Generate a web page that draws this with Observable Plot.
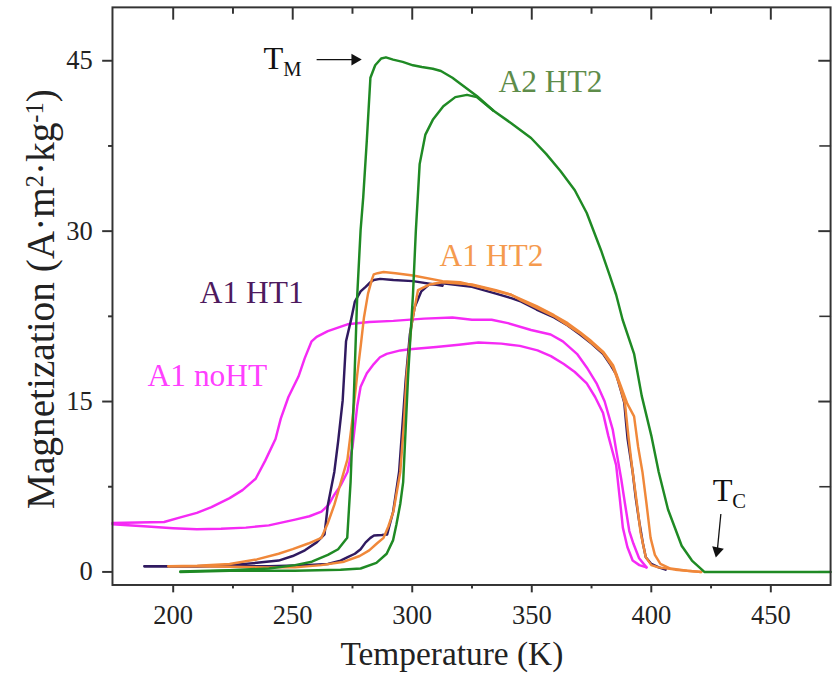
<!DOCTYPE html>
<html><head><meta charset="utf-8">
<script src="https://cdn.jsdelivr.net/npm/d3@7"></script>
<script src="https://cdn.jsdelivr.net/npm/@observablehq/plot@0.6"></script>
<style>
html,body{margin:0;padding:0;background:#fff;}
#wrap{width:835px;height:686px;overflow:hidden;}
</style></head><body><div id="wrap"></div>
<script>
// [Temperature (K), Magnetization (A·m²·kg⁻¹)]
const a1noHTHeating = [[174.6,4.2],[189.3,4.0],[200,3.85],[209.9,3.75],[220,3.8],[230.4,3.9],[240,4.1],[251,4.6],[257,4.9],[262,5.3],[265,5.9],[267.4,6.8],[270,7.6],[272.9,8.8],[275,11],[277,14.6],[278.4,16.3],[281,17.5],[283.9,18.3],[286.5,18.9],[289.3,19.2],[295,19.5],[299,19.6],[310,19.8],[319.5,20.0],[327.7,20.2],[337.3,20.1],[345,19.9],[352.4,19.5],[358,19.0],[363.4,18.3],[368,17.6],[373,16.6],[376.5,15.4],[379.8,14.0],[382,12],[385.3,9.4],[386.8,6.5],[388.1,3.9],[390,2.2],[392.2,1.0],[395,0.6],[398,0.4]];
const a1noHTCooling = [[398,0.4],[394.9,1.2],[392.5,2.5],[390.8,3.6],[389,6],[387.4,8.2],[385.5,10.5],[383.9,12.5],[380.5,15],[377.1,16.6],[373,18],[368.9,19.2],[363,20.3],[357.9,20.9],[349.7,21.3],[340,21.9],[333.2,22.2],[325,22.2],[316.8,22.4],[305,22.3],[292.1,22.1],[282,22.0],[272.9,21.8],[264.7,21.2],[260,20.7],[257.9,20.3],[255,18.8],[252.4,17.2],[248.2,15.4],[245,13.5],[242.8,11.7],[238.5,9.8],[234.5,8.2],[229,7.2],[223.6,6.5],[216,5.7],[209.9,5.2],[203,4.8],[196.2,4.4],[185,4.35],[174.6,4.3]];
const a1ht1Heating = [[188,0.5],[198,0.5],[210,0.5],[223.6,0.5],[240,0.5],[255,0.6],[264.7,0.7],[270,1.0],[273,1.3],[276,1.6],[278.4,2.0],[280.5,2.6],[282.5,3.0],[284,3.2],[287.3,3.25],[289.5,3.3],[292,5.3],[294.5,8.8],[297.3,17],[299,20.9],[301,23.3],[303.8,24.7],[307,25.3],[312.7,25.4],[325,25.1],[335,24.5],[341.4,24.1],[345.6,23.8],[352,23.1],[359.3,22.4],[365,21.7],[370.2,20.9],[375,20.1],[379.8,19.2],[383,18.2],[385.3,17.4],[387.5,15.8],[388.7,14.9],[389.5,13],[390.1,11.7],[392.2,8.8],[393.5,6.5],[394.9,4.5],[396.5,2.5],[397.7,1.3],[400,0.7],[403.1,0.4],[406,0.2]];
const a1ht1Cooling = [[312.7,25.2],[300.3,25.6],[292.1,25.7],[286.6,25.8],[283.9,25.7],[282.5,25.5],[280.5,25.1],[278.4,24.7],[276,23.8],[274.3,22.1],[272.3,20.3],[270.9,15.1],[269,11.5],[267.4,8.8],[264.7,5.9],[263.3,3.3],[260,2.6],[255.1,1.9],[250,1.4],[244.1,1.0],[235,0.8],[223.6,0.6],[210,0.5],[198,0.5],[188,0.5]];
const a1ht2Heating = [[198,0.5],[210,0.5],[223.6,0.45],[240,0.4],[251,0.4],[262,0.6],[271.5,0.9],[278,1.4],[282,1.9],[285.2,2.5],[288,3.0],[290,4],[292.1,5.3],[295,8.8],[296.5,13],[297.7,17.4],[299.7,21.8],[302.4,24.8],[307.2,25.3],[312.7,25.5],[325,25.3],[335,24.8],[341.4,24.4],[345.6,24.0],[352,23.4],[359.3,22.6],[365,21.9],[370.2,21.1],[375,20.3],[379.8,19.4],[384,18.2],[387,16.5],[390,14.8],[392.8,13.7],[394.5,11],[396.3,8.8],[398,6],[399.7,3.0],[401.5,1.5],[403.8,0.7],[408,0.3],[415,0.1],[420.9,0]];
const a1ht2Cooling = [[420.9,0],[410,0.2],[403,0.4],[400,0.6],[397.7,1.3],[395.5,3.5],[394,6],[392.2,8.8],[390.5,11.8],[389,14.8],[386.5,16.6],[384,18],[379.8,19.3],[370.2,21.0],[359.3,22.5],[345.6,23.9],[341.4,24.4],[330,25.0],[320,25.5],[312.7,25.6],[300.3,26.1],[293,26.3],[288,26.4],[285.5,26.3],[283.9,26.2],[283.2,25.8],[281.5,24.5],[279.8,22.4],[278.5,20],[277,17.4],[275,13.5],[272.9,9.9],[270,7.8],[267.4,5.9],[264.5,4.2],[262,3.0],[256.5,2.5],[250,2.0],[244.1,1.6],[235,1.1],[223.6,0.7],[210,0.55],[198,0.5]];
const a2ht2Heating = [[203,0.0],[223.6,0.1],[251,0.1],[270,0.2],[278.4,0.3],[285,0.8],[289.3,1.6],[292,2.8],[293.4,4.2],[295,6],[296.2,7.9],[298.3,17.4],[300.3,24.4],[301.5,30],[303.1,35.9],[305.5,38.5],[308.6,39.8],[313,41.0],[318,41.8],[322.9,42.0],[327,41.8],[334,40.6],[341.4,39.5],[349.7,38.2],[356,36.8],[362,35.3],[368,33.6],[373,31.6],[379,28.3],[382.6,26.1],[385.3,24.4],[388,22.2],[392.8,19.2],[396,15.5],[400,12],[403.1,8.8],[407,5.5],[412.7,2.3],[417,1.0],[422.2,0],[440,0],[475,0]];
const a2ht2Cooling = [[334,40.6],[327,41.9],[320,43.0],[316.8,43.5],[312,44.1],[308.6,44.3],[304,44.45],[300.3,44.6],[296,44.9],[292,45.1],[289,45.3],[287,45.2],[284.5,44.6],[282.5,43.5],[281,38],[279.5,33],[278.4,30.1],[277,24.4],[275.5,15],[274.2,7.9],[272.8,3.0],[269,2.0],[264.7,1.5],[258,0.9],[251,0.6],[240,0.3],[223.6,0.15],[203,0.05]];

const seriesNames = ["A1 noHT", "A1 HT1", "A1 HT2", "A2 HT2"];
const lineColors = ["#f52af5", "#301a60", "#f0883a", "#1f8a24"];
const labelColors = ["#ff40ff", "#4e1a5e", "#f59a4e", "#5e8c4a"];
const labelT = [189.3, 211.1, 311.4, 336.1];
const labelM = [16.4, 23.68, 26.96, 42.27];

const xTicks = [200, 250, 300, 350, 400, 450];
const xMinorTicks = [225, 275, 325, 375, 425];
const yTicks = [0, 15, 30, 45];
const yMinorTicks = [7.5, 22.5, 37.5];

const markerText = ["T", "T"];
const markerSub = ["M", "C"];
const markerT = [237.8, 425.7];
const markerM = [44.26, 6.2];
const arrowT1 = [260.0, 429.1];
const arrowM1 = [45.1, 5.1];
const arrowT2 = [276.0, 427.6];
const arrowM2 = [45.1, 1.85];
const arrowRotate = [90, 192.5];

const xLabel = "Temperature (K)";
const yLabel = "Magnetization (A·m2·kg-1)";

const rows = [];
const addRows = (arr, s, branch) => arr.forEach(([T, M]) => rows.push({T, M, series: s, key: s + branch}));
addRows(a1noHTHeating, seriesNames[0], "h"); addRows(a1noHTCooling, seriesNames[0], "c");
addRows(a1ht1Heating, seriesNames[1], "h"); addRows(a1ht1Cooling, seriesNames[1], "c");
addRows(a1ht2Heating, seriesNames[2], "h"); addRows(a1ht2Cooling, seriesNames[2], "c");
addRows(a2ht2Heating, seriesNames[3], "h"); addRows(a2ht2Cooling, seriesNames[3], "c");

const labels = seriesNames.map((s, i) => ({s, T: labelT[i], M: labelM[i], c: labelColors[i]}));
const markers = markerText.map((t, i) => ({t, sub: markerSub[i], T: markerT[i], M: markerM[i]}));
const arrows = arrowT1.map((t, i) => ({T1: t, M1: arrowM1[i], T2: arrowT2[i], M2: arrowM2[i], r: arrowRotate[i]}));

const font = "Liberation Serif";
const axisCommon = {fontSize: 27, label: null, stroke: "#333", color: "#222"};

const chart = Plot.plot({
  width: 850, height: 686,
  marginLeft: 114, marginRight: 5, marginTop: 7, marginBottom: 91,
  style: {fontFamily: font, background: "#fff", color: "#222"},
  x: {domain: [174.6, 475]},
  y: {domain: [-1.15, 49.7]},
  color: {domain: seriesNames, range: lineColors},
  marks: [
    Plot.axisX({...axisCommon, anchor: "bottom", ticks: xTicks, tickSize: 8, tickPadding: 13, strokeWidth: 2}),
    Plot.axisX({...axisCommon, anchor: "bottom", ticks: xMinorTicks, tickSize: 4, tickFormat: () => "", strokeWidth: 2}),
    Plot.axisX({...axisCommon, anchor: "top", ticks: xTicks, tickSize: 12, dy: 12, tickFormat: () => "", strokeWidth: 2}),
    Plot.axisX({...axisCommon, anchor: "top", ticks: xMinorTicks, tickSize: 6, dy: 6, tickFormat: () => "", strokeWidth: 2}),
    Plot.axisY({...axisCommon, anchor: "left", ticks: yTicks, tickSize: 10, tickPadding: 10, strokeWidth: 2}),
    Plot.axisY({...axisCommon, anchor: "left", ticks: yMinorTicks, tickSize: 4, tickFormat: () => "", strokeWidth: 2}),
    Plot.axisY({...axisCommon, anchor: "right", ticks: yTicks, tickSize: 13, dx: -13, tickFormat: () => "", strokeWidth: 2}),
    Plot.axisY({...axisCommon, anchor: "right", ticks: yMinorTicks, tickSize: 12, dx: -12, tickFormat: () => "", strokeWidth: 1.6}),
    Plot.line(rows, {x: "T", y: "M", z: "key", stroke: "series", strokeWidth: 2.5, strokeLinejoin: "round"}),
    Plot.frame({stroke: "#333", strokeWidth: 2}),
    Plot.text(labels, {x: "T", y: "M", text: "s", fill: "c", fontSize: 32, textAnchor: "start", lineAnchor: "bottom"}),
    Plot.text(markers, {x: "T", y: "M", text: "t", fill: "#111", fontSize: 33, textAnchor: "start", lineAnchor: "bottom"}),
    Plot.text(markers, {x: "T", y: "M", text: "sub", fill: "#111", fontSize: 21, textAnchor: "start", lineAnchor: "bottom", dx: 20, dy: 7}),
    Plot.link(arrows, {x1: "T1", y1: "M1", x2: "T2", y2: "M2", stroke: "#111", strokeWidth: 1.3}),
    Plot.dot(arrows, {x: "T2", y: "M2", symbol: "triangle", r: 4.5, fill: "#111", stroke: null, rotate: "r"}),
    Plot.text([xLabel], {frameAnchor: "bottom", dx: -20, dy: 71, fontSize: 34, fill: "#222", textAnchor: "middle", lineAnchor: "middle"}),
    Plot.text([yLabel], {frameAnchor: "left", dx: -72, dy: 3, fontSize: 40, fill: "#222", rotate: -90, textAnchor: "middle", lineAnchor: "middle"})
  ]
});

// superscripts in the y-axis title
d3.select(chart).selectAll("text").filter(function () { return this.textContent === yLabel; }).each(function () {
  const t = d3.select(this);
  t.text(null);
  t.append("tspan").text("Magnetization (A·m");
  t.append("tspan").attr("dy", "-0.45em").attr("font-size", "62%").text("2");
  t.append("tspan").attr("dy", "0.28em").text("·kg");
  t.append("tspan").attr("dy", "-0.45em").attr("font-size", "62%").text("-1");
  t.append("tspan").attr("dy", "0.28em").text(")");
});

document.getElementById("wrap").appendChild(chart);
</script>
</body></html>
